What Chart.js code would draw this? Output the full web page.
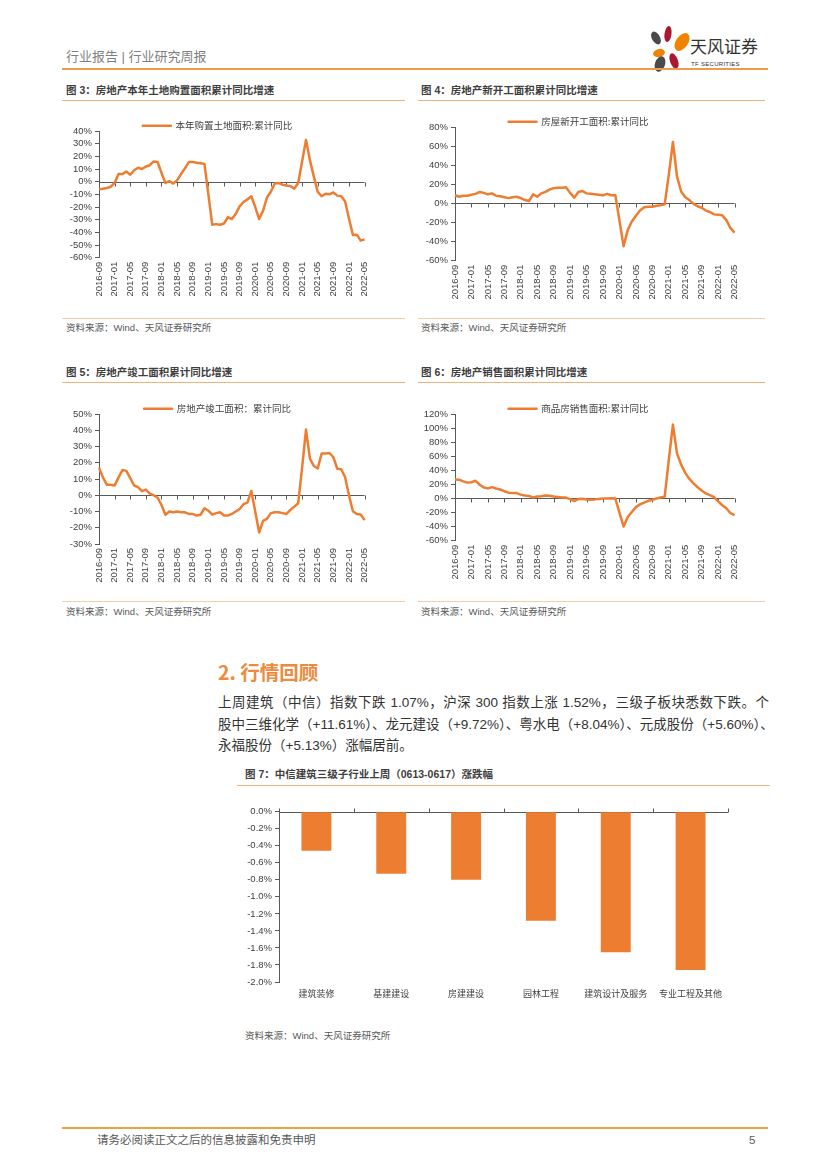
<!DOCTYPE html>
<html>
<head>
<meta charset="utf-8">
<script src="https://cdn.jsdelivr.net/npm/chart.js@4.4.0/dist/chart.umd.min.js"></script>
<style>
body { margin: 0; background: #fff; }
#page { position: relative; width: 827px; height: 1169px; overflow: hidden; font-family: "Liberation Sans", "Noto Sans CJK SC", sans-serif; color: #333; }
.t { position: absolute; white-space: nowrap; line-height: 1; font-family: "Liberation Sans", "Noto Sans CJK SC", sans-serif; }
.cap { font-size: 10.5px; font-weight: bold; color: #404040; }
.src { font-size: 9.5px; color: #595959; }
.rule { position: absolute; }
canvas { position: absolute; }
.para { position: absolute; left: 218px; width: 551px; font-size: 13.5px; color: #333; line-height: 1; white-space: nowrap; }
.just { text-align: justify; text-align-last: justify; }
</style>
</head>
<body>
<div id="page">
  <!-- header -->
  <div class="t" style="left:66px;top:50px;font-size:13px;color:#7f7f7f;">行业报告 | 行业研究周报</div>
  <svg style="position:absolute;left:640px;top:22px;" width="130" height="56">
    <ellipse cx="16" cy="16" rx="4" ry="7" transform="rotate(-30 16 16)" fill="#4a4a4a"/>
    <ellipse cx="28" cy="12" rx="3.5" ry="8" transform="rotate(8 28 12)" fill="#a6192e"/>
    <ellipse cx="42" cy="20" rx="6" ry="10" transform="rotate(35 42 20)" fill="#f08300"/>
    <ellipse cx="19" cy="31" rx="6" ry="4" transform="rotate(-15 19 31)" fill="#f08300"/>
    <ellipse cx="34" cy="39" rx="4" ry="8" transform="rotate(-20 34 39)" fill="#a6192e"/>
    <ellipse cx="20" cy="42" rx="5" ry="8" transform="rotate(20 20 42)" fill="#4a4a4a"/>
  </svg>
  <div class="t" style="left:690px;top:37px;font-size:17px;color:#333;font-family:'Noto Sans CJK SC';">天风证券</div>
  <div class="t" style="left:691px;top:61px;font-size:6px;color:#333;letter-spacing:0.3px;">TF SECURITIES</div>
  <div class="rule" style="left:62px;top:68px;width:706px;height:2px;background:#ee9a4d;"></div>

  <!-- row 1 -->
  <div class="t cap" style="left:66px;top:85px;">图 3：房地产本年土地购置面积累计同比增速</div>
  <div class="t cap" style="left:421px;top:85px;">图 4：房地产新开工面积累计同比增速</div>
  <div class="rule" style="left:62px;top:100px;width:343px;height:1px;background:#f0b27a;"></div>
  <div class="rule" style="left:418px;top:100px;width:347px;height:1px;background:#f0b27a;"></div>
  <canvas id="c1" width="320" height="185" style="left:60px;top:119px;"></canvas>
  <canvas id="c2" width="335" height="191" style="left:415px;top:115px;"></canvas>
  <div class="rule" style="left:62px;top:318px;width:343px;height:1px;background:#f6cfaa;"></div>
  <div class="rule" style="left:418px;top:318px;width:347px;height:1px;background:#f6cfaa;"></div>
  <div class="t src" style="left:66px;top:323px;">资料来源：Wind、天风证券研究所</div>
  <div class="t src" style="left:421px;top:323px;">资料来源：Wind、天风证券研究所</div>

  <!-- row 2 -->
  <div class="t cap" style="left:66px;top:367px;">图 5：房地产竣工面积累计同比增速</div>
  <div class="t cap" style="left:421px;top:367px;">图 6：房地产销售面积累计同比增速</div>
  <div class="rule" style="left:62px;top:382px;width:343px;height:1px;background:#f0b27a;"></div>
  <div class="rule" style="left:418px;top:382px;width:347px;height:1px;background:#f0b27a;"></div>
  <canvas id="c3" width="320" height="188" style="left:60px;top:402px;"></canvas>
  <canvas id="c4" width="335" height="184" style="left:415px;top:402px;"></canvas>
  <div class="rule" style="left:62px;top:601px;width:343px;height:1px;background:#f6cfaa;"></div>
  <div class="rule" style="left:418px;top:601px;width:347px;height:1px;background:#f6cfaa;"></div>
  <div class="t src" style="left:66px;top:607px;">资料来源：Wind、天风证券研究所</div>
  <div class="t src" style="left:421px;top:607px;">资料来源：Wind、天风证券研究所</div>

  <!-- section -->
  <div class="t" style="left:218px;top:662px;font-size:19.5px;font-weight:bold;color:#ee8a3c;font-family:'Noto Sans CJK SC';">2. 行情回顾</div>
  <div class="para just" style="top:696px;">上周建筑（中信）指数下跌 1.07%，沪深 300 指数上涨 1.52%，三级子板块悉数下跌。个</div>
  <div class="para just" style="top:718px;">股中三维化学（+11.61%）、龙元建设（+9.72%）、粤水电（+8.04%）、元成股份（+5.60%）、</div>
  <div class="para" style="top:739px;">永福股份（+5.13%）涨幅居前。</div>

  <div class="t cap" style="left:245px;top:769px;">图 7：中信建筑三级子行业上周（0613-0617）涨跌幅</div>
  <div class="rule" style="left:237px;top:785px;width:533px;height:1px;background:#f0b27a;"></div>
  <canvas id="c5" width="505" height="200" style="left:232px;top:803px;"></canvas>
  <div class="t src" style="left:245px;top:1031px;">资料来源：Wind、天风证券研究所</div>

  <!-- footer -->
  <div class="rule" style="left:62px;top:1127px;width:706px;height:2px;background:#e9a43f;"></div>
  <div class="t" style="left:97px;top:1135px;font-size:11.5px;color:#595959;">请务必阅读正文之后的信息披露和免责申明</div>
  <div class="t" style="left:749px;top:1135px;font-size:11.5px;color:#595959;">5</div>
</div>

<script>
var months = [
    '2016-09', '2016-10', '2016-11', '2016-12',
    '2017-01', '2017-02', '2017-03', '2017-04', '2017-05', '2017-06', '2017-07', '2017-08', '2017-09', '2017-10', '2017-11', '2017-12',
    '2018-01', '2018-02', '2018-03', '2018-04', '2018-05', '2018-06', '2018-07', '2018-08', '2018-09', '2018-10', '2018-11', '2018-12',
    '2019-01', '2019-02', '2019-03', '2019-04', '2019-05', '2019-06', '2019-07', '2019-08', '2019-09', '2019-10', '2019-11', '2019-12',
    '2020-01', '2020-02', '2020-03', '2020-04', '2020-05', '2020-06', '2020-07', '2020-08', '2020-09', '2020-10', '2020-11', '2020-12',
    '2021-01', '2021-02', '2021-03', '2021-04', '2021-05', '2021-06', '2021-07', '2021-08', '2021-09', '2021-10', '2021-11', '2021-12',
    '2022-01', '2022-02', '2022-03', '2022-04', '2022-05'
];

// 本年购置土地面积:累计同比 (%)
var landPurchase = [
    -6, -5.5, -5, -4,
    -1, 6, 6, 8, 5.5, 9, 11, 10, 12, 13, 16, 15.5,
    7, -1, 0.5, -1.5, 1, 6, 10.5, 15.5, 15.5, 15, 14.5, 14,
    -10, -34, -33.5, -34, -33, -28, -29.5, -25.5, -19.5, -16, -14, -11.5,
    -20, -29.5, -23, -12.5, -8, -1.5, -1, -2.5, -3, -3.5, -5.5, -1,
    16, 33, 17, 4, -8, -11.5, -9.5, -10, -8.5, -11, -11.5, -15.5,
    -29, -42, -41.8, -46.5, -45.5
];

// 房屋新开工面积:累计同比 (%)
var newStarts = [
    8.5, 7, 8, 8,
    9, 10, 12, 11, 9.5, 10.5, 8, 7.5, 6.5, 5.5, 6.5, 7,
    5.5, 3.5, 2.5, 9.5, 7, 10.5, 12, 14.5, 16, 16.5, 16.5, 17,
    11, 6, 12, 13, 10.5, 10, 9.5, 9, 8.5, 10, 8.5, 8.5,
    -18, -44.9, -28, -19, -13, -7.5, -4, -3.5, -3.5, -2.5, -2, -1,
    30, 64.3, 28, 12.5, 6.5, 3.5, -0.5, -3, -4.5, -7.5, -9, -11.5,
    -12, -12.5, -17.5, -26, -30.5
];

// 房地产竣工面积:累计同比 (%)
var completions = [
    17, 11, 6.5, 6.5,
    6, 11, 15.5, 15, 10.5, 6, 5, 2.5, 3.5, 1, 0, -1.5,
    -6, -12, -10, -10.5, -10, -10.5, -10.5, -11.5, -11.5, -12.5, -12, -8,
    -9.5, -11.9, -11, -10.5, -12.5, -12.5, -11.5, -10, -8.5, -5.5, -4.5, 2.6,
    -10, -22.9, -15.8, -14.5, -11, -10.5, -10.5, -11, -11.5, -9, -7, -4.9,
    17, 40.4, 22.5, 18, 16.5, 25.7, 25.7, 26, 23.4, 16.3, 16, 11.2,
    0, -9.8, -11.5, -11.9, -15.3
];

// 商品房销售面积:累计同比 (%)
var sales = [
    26.9, 26.7, 24.3, 22.5,
    23, 25.1, 19.5, 15.7, 14.3, 16.1, 14.2, 12.7, 10.3, 8.2, 7.9, 7.7,
    5.5, 4.1, 3.6, 1.3, 2.9, 3.3, 4.2, 4, 2.9, 2.2, 1.4, 1.3,
    -1, -3.6, -0.9, -0.3, -1.6, -1.8, -1.3, -0.6, -0.1, 0.1, 0.2, -0.1,
    -20, -39.9, -26.3, -19.3, -12.3, -8.4, -5.8, -3.3, -1.8, 0, 1.3, 2.6,
    55, 104.9, 63.8, 48.1, 36.3, 27.7, 21.5, 15.9, 11.3, 7.2, 4.8, 1.9,
    -4, -9.6, -13.8, -20.9, -23.6
];

// 图7
var sectors = ['建筑装修', '基建建设', '房建建设', '园林工程', '建筑设计及服务', '专业工程及其他'];
var sectorChange = [-0.46, -0.73, -0.80, -1.28, -1.65, -1.86];

var ORANGE = '#ed7d31';
var AXIS = '#595959';
var TEXT = '#404040';

// zero line + small tick marks on it (Excel style category axis crossing at 0)
var axisMarks = {
    id: 'axisMarks',
    beforeDatasetsDraw: function(chart, args, opts) {
        var ctx = chart.ctx, xs = chart.scales.x, ys = chart.scales.y, area = chart.chartArea;
        var y0 = Math.round(ys.getPixelForValue(0)) + 0.5;
        ctx.save();
        ctx.strokeStyle = AXIS;
        ctx.lineWidth = 1;
        ctx.beginPath();
        ctx.moveTo(area.left, y0);
        ctx.lineTo(area.right, y0);
        opts.ticks.forEach(function(v) {
            var x = Math.round(xs.getPixelForValue(v)) + 0.5;
            ctx.moveTo(x, y0);
            ctx.lineTo(x, y0 + opts.dir * 4);
        });
        ctx.stroke();
        ctx.restore();
    }
};

// shrink legend box so it sits just above the plot
var legendFit = {
    id: 'legendFit',
    beforeInit: function(chart) {
        var fit = chart.legend.fit;
        chart.legend.fit = function() {
            fit.bind(chart.legend)();
            this.height = 12;
        };
    }
};

function lineChart(id, title, values, min, max, step, yWidth, padRight, xHeight) {
    var every4 = [];
    for (var i = 0; i < months.length; i += 4) every4.push(i);
    return new Chart(document.getElementById(id), {
        type: 'line',
        data: {
            labels: months,
            datasets: [{
                label: title,
                data: values,
                borderColor: ORANGE,
                backgroundColor: ORANGE,
                borderWidth: 2.5,
                pointRadius: 0,
                tension: 0,
                borderJoinStyle: 'round'
            }]
        },
        options: {
            responsive: false,
            animation: false,
            layout: { padding: { right: padRight } },
            plugins: {
                legend: {
                    labels: {
                        boxWidth: 28,
                        boxHeight: 0,
                        padding: 2,
                        color: TEXT,
                        font: { size: 9.5, family: 'Noto Sans CJK SC' }
                    }
                },
                tooltip: { enabled: false },
                axisMarks: { ticks: every4, dir: 1 }
            },
            scales: {
                x: {
                    grid: { display: false, drawTicks: false },
                    border: { display: false },
                    ticks: {
                        autoSkip: false,
                        maxRotation: 90,
                        minRotation: 90,
                        padding: 4,
                        color: TEXT,
                        font: { size: 9.5, family: 'Liberation Sans' },
                        callback: function(v, i) {
                            return i % 4 === 0 ? this.getLabelForValue(v) : null;
                        }
                    },
                    afterFit: function(s) { s.height = xHeight; }
                },
                y: {
                    min: min,
                    max: max,
                    grid: { drawOnChartArea: false, tickLength: 4, color: AXIS },
                    border: { color: AXIS },
                    ticks: {
                        stepSize: step,
                        autoSkip: false,
                        padding: 3,
                        color: TEXT,
                        font: { size: 9.5, family: 'Liberation Sans' },
                        callback: function(v) { return v + '%'; }
                    },
                    afterFit: function(s) { s.width = yWidth; }
                }
            }
        },
        plugins: [legendFit, axisMarks]
    });
}

lineChart('c1', '本年购置土地面积:累计同比', landPurchase, -60, 40, 10, 39, 5, 46.3);
lineChart('c2', '房屋新开工面积:累计同比', newStarts, -60, 80, 20, 40, 8, 45.3);
lineChart('c3', '房地产竣工面积：累计同比', completions, -30, 50, 10, 39, 5, 46);
lineChart('c4', '商品房销售面积:累计同比', sales, -60, 120, 20, 40, 8, 45.3);

var boundaries = [];
for (var b = 0; b <= sectors.length; b++) boundaries.push(b - 0.5);

new Chart(document.getElementById('c5'), {
    type: 'bar',
    data: {
        labels: sectors,
        datasets: [{
            data: sectorChange,
            backgroundColor: ORANGE,
            barPercentage: 0.4,
            categoryPercentage: 1
        }]
    },
    options: {
        responsive: false,
        animation: false,
        layout: { padding: { top: 8, right: 9 } },
        plugins: {
            legend: { display: false },
            tooltip: { enabled: false },
            axisMarks: { ticks: boundaries, dir: -1 }
        },
        scales: {
            x: {
                grid: { display: false, drawTicks: false },
                border: { display: false },
                ticks: {
                    padding: 6,
                    color: TEXT,
                    font: { size: 9, family: 'Noto Sans CJK SC' }
                },
                afterFit: function(s) { s.height = 21; }
            },
            y: {
                min: -2,
                max: 0,
                grid: { drawOnChartArea: false, tickLength: 4, color: AXIS },
                border: { color: AXIS },
                ticks: {
                    stepSize: 0.2,
                    autoSkip: false,
                    padding: 3,
                    color: TEXT,
                    font: { size: 9.5, family: 'Liberation Sans' },
                    callback: function(v) {
                        return Math.abs(v) < 1e-9 ? '0.0%' : v.toFixed(1) + '%';
                    }
                },
                afterFit: function(s) { s.width = 47; }
            }
        }
    },
    plugins: [axisMarks]
});
</script>
</body>
</html>
